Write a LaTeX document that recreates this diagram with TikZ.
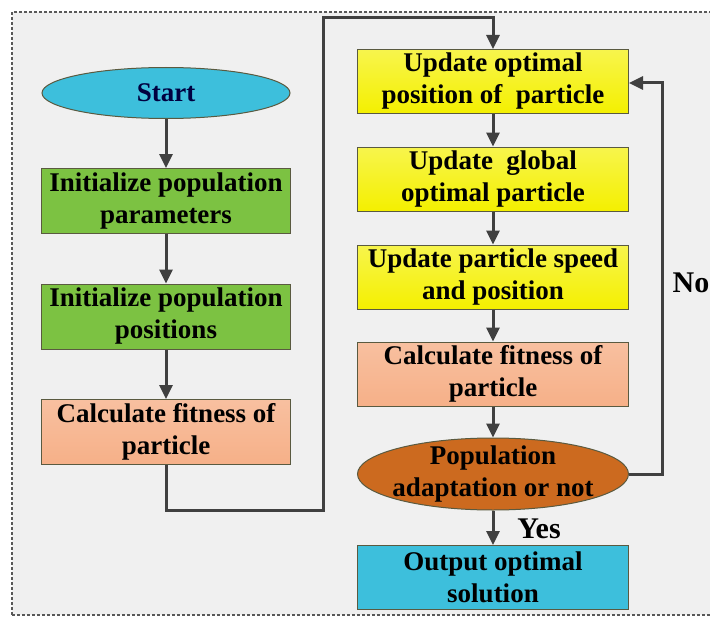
\documentclass[tikz,border=0pt]{standalone}
\usepackage{fontspec}
\setmainfont{Liberation Serif}
\usetikzlibrary{shapes.geometric,arrows.meta}
\definecolor{bgc}{HTML}{F0F0F0}
\definecolor{linec}{HTML}{404040}
\definecolor{cyanc}{HTML}{3DBFDC}
\definecolor{greenc}{HTML}{7CC242}
\definecolor{peachc}{HTML}{F6B088}
\definecolor{yellowc}{HTML}{F4F000}
\definecolor{orangec}{HTML}{CC6A1F}
\definecolor{boxc}{HTML}{5A5A40}
\begin{document}
\begin{tikzpicture}[x=1pt,y=-1pt,
  every node/.style={font=\fontsize{27}{32}\selectfont\bfseries, align=center, inner sep=0pt},
  boxl/.style={draw=boxc, line width=1pt, minimum width=249pt, minimum height=65pt},
  boxr/.style={draw=boxc, line width=1pt, minimum width=271pt, minimum height=64pt},
  conn/.style={draw=linec, line width=3pt},
  arr/.style={conn, -{Triangle[length=14pt,width=13pt]}}]
\useasboundingbox (0,0) rectangle (710,618);
\fill[white] (0,0) rectangle (710,618);
\fill[bgc] (12,12) rectangle (710,615);
\draw[gray!70!black, line width=1.2pt, dash pattern=on 3pt off 2pt] (12,615) -- (12,12) -- (710,12);
\draw[gray!70!black, line width=1.2pt, dash pattern=on 3pt off 2pt] (12,615) -- (710,615);
% left column
\node[ellipse, draw=boxc, line width=1pt, fill=cyanc, minimum width=248pt, minimum height=51pt, text=blue!25!black] (start) at (166,93) {Start};
\node[boxl, fill=greenc] (b1) at (166,201) {Initialize population\\parameters};
\node[boxl, fill=greenc] (b2) at (166,316.5) {Initialize population\\positions};
\node[boxl, top color=peachc!80!white, bottom color=peachc] (b3) at (166,432) {Calculate fitness of\\particle};
% right column
\node[boxr, top color=yellowc!70!white, bottom color=yellowc] (r1) at (493,81.5) {Update optimal\\position of~ particle};
\node[boxr, top color=yellowc!70!white, bottom color=yellowc] (r2) at (493,179) {Update~ global\\optimal particle};
\node[boxr, top color=yellowc!70!white, bottom color=yellowc] (r3) at (493,277) {Update particle speed\\and position};
\node[boxr, top color=peachc!80!white, bottom color=peachc] (r4) at (493,374) {Calculate fitness of\\particle};
\node[ellipse, draw=boxc, line width=1pt, fill=orangec, minimum width=271pt, minimum height=72pt, inner sep=-8pt] (dec) at (493,474) {Population\\adaptation or not};
\node[boxr, fill=cyanc] (out) at (493,577.5) {Output optimal\\solution};
% connectors
\draw[arr] (start) -- (b1);
\draw[arr] (b1) -- (b2);
\draw[arr] (b2) -- (b3);
\coordinate (c1) at (166,510);
\coordinate (c2) at (323,510);
\coordinate (c3) at (323,18);
\coordinate (c4) at (493,18);
\draw[arr, line join=miter] (b3.south) -- (c1) -- (c2) -- (c3) -- (c4) -- (r1.north);
\draw[arr] (r1) -- (r2);
\draw[arr] (r2) -- (r3);
\draw[arr] (r3) -- (r4);
\draw[arr] (r4) -- (dec);
\draw[arr] (dec.south) -- (out.north);
\node[font=\fontsize{30}{32}\selectfont\bfseries] (yes) at (539,529) {Yes};
\coordinate (n1) at (662,474);
\coordinate (n2) at (662,83);
\draw[arr, line join=miter] (dec.east) -- (n1) -- (n2) -- (r1.east |- n2);
\node[font=\fontsize{30}{32}\selectfont\bfseries] (no) at (691,283) {No};
\end{tikzpicture}
\end{document}
